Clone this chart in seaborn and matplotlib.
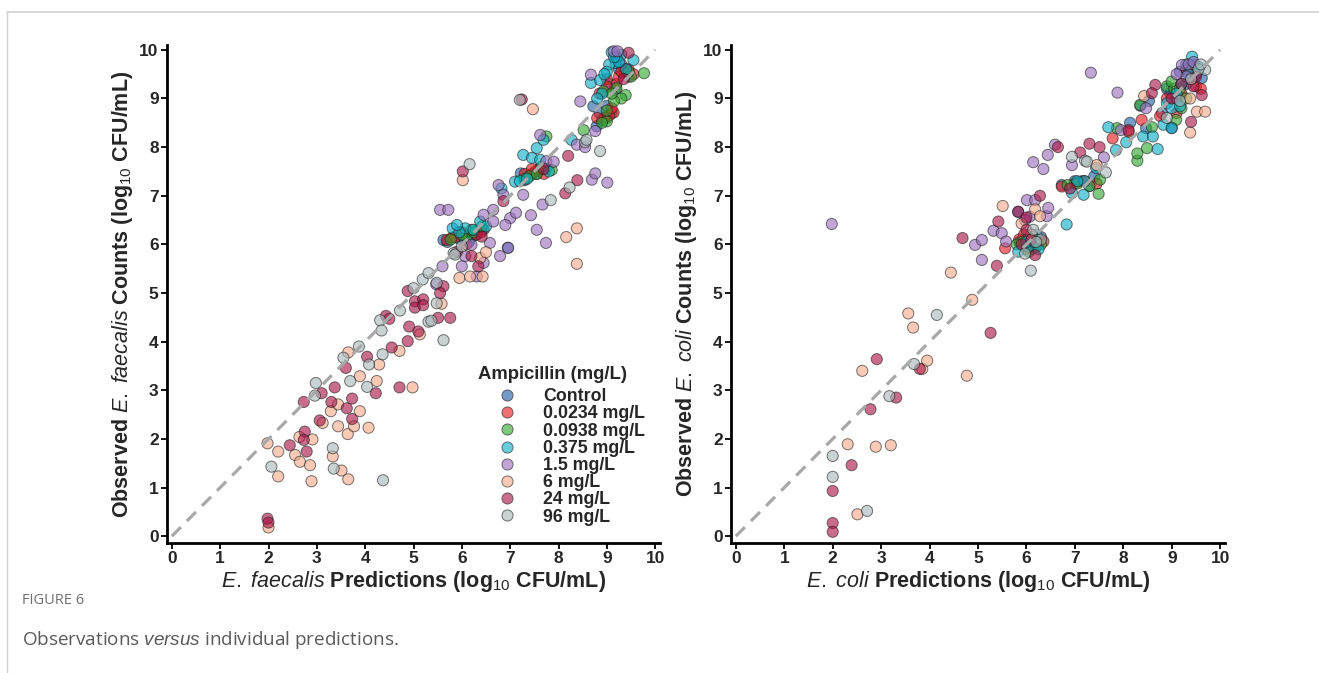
import numpy as np
import pandas as pd
import matplotlib
matplotlib.use("Agg")
import matplotlib.pyplot as plt
from matplotlib.lines import Line2D
import seaborn as sns

# ---------------- data ----------------
groups = ["Control", "0.0234 mg/L", "0.0938 mg/L", "0.375 mg/L",
          "1.5 mg/L", "6 mg/L", "24 mg/L", "96 mg/L"]
colors = ["#2060A8", "#E8191F", "#2FA82F", "#0AAFC8",
          "#9B6EBE", "#FAAA8C", "#AA1446", "#AAB9B9"]
ticks = [0, 1, 2, 3, 4, 5, 6, 7, 8, 9, 10]

# E. faecalis (left panel): predictions (x) and observations (y)
ef_ctrl_x = [5.62, 5.70, 5.95, 6.05, 6.20, 6.30, 6.45, 6.95, 7.22, 7.30, 7.45, 7.58, 7.75, 8.72, 8.79, 8.90, 9.00, 9.10, 9.18, 9.25, 9.35, 9.45, 9.20, 9.30, 9.05, 6.15, 7.55, 9.40, 8.85, 9.00]
ef_ctrl_y = [6.09, 6.05, 6.12, 6.10, 6.15, 6.20, 6.30, 5.93, 7.46, 7.32, 7.45, 7.50, 7.55, 8.84, 8.43, 8.55, 8.60, 8.70, 9.20, 9.60, 9.50, 9.45, 9.85, 9.70, 9.30, 6.05, 7.45, 9.60, 8.70, 8.85]
ef_r1_x = [5.69, 5.80, 5.86, 6.10, 6.30, 6.40, 7.30, 7.52, 7.70, 7.60, 9.14, 9.05, 8.95, 9.38, 9.55, 9.20, 9.00, 9.25, 9.10, 9.45, 8.85, 6.00, 7.45, 9.30, 9.00, 8.80]
ef_r1_y = [6.09, 6.14, 6.15, 6.00, 6.20, 6.25, 7.45, 7.50, 7.45, 7.55, 8.71, 8.65, 8.60, 9.56, 9.50, 9.30, 9.40, 9.45, 8.80, 9.60, 9.10, 6.25, 7.55, 9.55, 9.25, 8.60]
ef_g_x = [5.77, 6.10, 6.41, 6.25, 6.00, 7.30, 7.40, 7.86, 7.65, 7.75, 9.20, 9.39, 8.93, 9.00, 8.90, 8.52, 9.77, 9.50, 9.30, 9.00, 9.15, 6.20, 7.55, 9.10, 9.45]
ef_g_y = [6.10, 6.16, 6.37, 6.25, 6.20, 7.35, 7.40, 7.53, 7.60, 8.22, 9.21, 9.07, 9.15, 8.53, 8.50, 8.35, 9.52, 9.45, 9.00, 8.75, 8.95, 6.30, 7.45, 9.10, 9.55]
ef_c_x = [5.81, 6.07, 6.24, 6.38, 6.50, 5.95, 6.82, 7.10, 7.20, 7.27, 7.45, 7.55, 7.62, 7.69, 8.27, 7.80, 8.67, 8.86, 9.18, 9.05, 9.55, 9.10, 9.30, 8.90, 9.40, 8.80, 9.20, 9.00, 5.90, 7.35, 9.25, 8.95, 9.15]
ef_c_y = [6.33, 6.33, 6.30, 6.47, 6.37, 6.25, 7.15, 7.29, 7.30, 7.84, 7.78, 7.98, 7.74, 8.15, 8.15, 7.50, 9.32, 9.38, 9.73, 9.70, 9.79, 9.95, 9.90, 9.10, 9.60, 9.00, 9.85, 9.55, 6.40, 7.35, 9.75, 9.50, 9.85]
ef_p_x = [5.55, 5.72, 5.60, 5.47, 6.45, 6.65, 6.76, 6.86, 6.65, 6.58, 6.20, 6.07, 6.00, 6.45, 6.31, 6.79, 6.96, 7.00, 7.12, 7.27, 7.43, 7.55, 7.74, 7.67, 7.75, 7.90, 7.62, 8.38, 8.69, 8.76, 9.01, 8.45, 8.67, 9.14, 9.22, 8.76, 8.55, 6.90]
ef_p_y = [6.71, 6.71, 5.55, 5.18, 6.61, 6.47, 7.22, 7.02, 6.71, 6.03, 5.99, 5.76, 5.55, 5.62, 5.34, 5.76, 5.93, 6.54, 6.65, 7.02, 6.60, 6.30, 6.03, 6.82, 7.71, 7.70, 8.25, 8.05, 7.33, 7.46, 7.27, 8.94, 9.49, 9.97, 9.97, 8.33, 8.00, 6.40]
ef_pe_x = [2.00, 1.98, 2.20, 2.20, 2.64, 2.91, 2.55, 2.65, 2.86, 2.89, 3.12, 3.29, 3.44, 3.44, 3.64, 3.77, 3.89, 4.07, 3.33, 3.51, 3.65, 3.65, 3.89, 4.29, 4.24, 4.71, 4.98, 5.13, 5.58, 5.95, 6.17, 6.43, 6.38, 6.50, 6.02, 7.47, 8.16, 8.38, 8.38]
ef_pe_y = [0.18, 1.91, 1.74, 1.23, 2.04, 1.99, 1.67, 1.53, 1.46, 1.13, 2.33, 2.57, 2.71, 2.26, 2.10, 2.26, 2.57, 2.23, 1.64, 1.35, 1.17, 3.78, 3.29, 3.53, 3.19, 3.81, 3.06, 4.15, 4.78, 5.31, 5.34, 5.34, 5.72, 5.84, 7.32, 8.78, 6.15, 6.33, 5.60]
ef_cr_x = [1.98, 2.00, 2.44, 2.75, 2.73, 2.79, 2.73, 3.10, 3.06, 3.30, 3.37, 3.62, 3.73, 3.73, 3.60, 4.04, 4.22, 4.55, 4.71, 4.88, 4.91, 5.10, 5.51, 5.76, 4.43, 4.50, 4.88, 5.03, 5.03, 5.20, 5.20, 5.62, 5.55, 5.90, 6.20, 6.34, 6.41, 6.86, 6.02, 7.24, 8.39, 8.14, 8.20, 7.69, 9.45, 9.35]
ef_cr_y = [0.36, 0.28, 1.87, 2.15, 1.98, 1.74, 2.76, 2.94, 2.38, 2.76, 3.06, 2.63, 2.83, 2.41, 3.46, 3.69, 2.94, 3.88, 3.06, 4.01, 4.31, 4.21, 4.49, 4.49, 4.53, 4.47, 5.04, 4.83, 4.70, 4.87, 4.75, 5.14, 5.00, 5.85, 5.76, 5.55, 6.16, 6.89, 7.50, 8.98, 7.32, 7.05, 7.82, 7.55, 9.94, 9.40]
ef_gr_x = [2.06, 2.98, 2.96, 3.33, 3.35, 4.37, 3.55, 3.69, 3.87, 4.08, 4.36, 4.04, 5.31, 5.37, 5.62, 4.31, 4.34, 4.72, 5.00, 5.19, 5.31, 5.48, 5.48, 5.83, 5.86, 6.00, 6.16, 7.20, 7.84, 8.23, 8.55, 8.86, 8.58]
ef_gr_y = [1.43, 3.15, 2.89, 1.81, 1.39, 1.15, 3.67, 3.19, 3.90, 3.53, 3.74, 3.07, 4.41, 4.43, 4.03, 4.44, 4.23, 4.64, 5.10, 5.28, 5.41, 5.21, 4.79, 5.82, 5.79, 5.96, 7.65, 8.97, 6.91, 7.17, 8.10, 7.92, 8.15]

# E. coli (right panel)
ec_ctrl_x = [5.85, 6.00, 6.20, 6.10, 5.83, 6.73, 7.15, 7.40, 7.30, 8.14, 8.47, 8.53, 8.35, 8.97, 9.17, 9.62, 9.10, 9.30, 8.80, 9.45, 9.00, 6.00, 6.30, 7.00, 8.90, 9.30, 9.50]
ec_ctrl_y = [6.05, 6.10, 6.00, 5.90, 6.67, 7.22, 7.30, 7.40, 7.20, 8.50, 8.39, 8.95, 8.85, 9.11, 9.55, 9.42, 9.00, 9.30, 8.70, 9.70, 8.40, 5.95, 6.15, 7.30, 9.20, 9.60, 9.50]
ec_r1_x = [5.56, 6.35, 5.95, 6.10, 6.25, 6.73, 7.00, 7.45, 7.78, 8.11, 8.38, 8.76, 9.20, 9.50, 9.10, 9.30, 9.60, 5.85, 6.00, 7.20, 8.90, 9.40]
ec_r1_y = [5.92, 6.06, 6.20, 5.95, 6.10, 7.19, 7.25, 7.25, 8.18, 8.32, 8.56, 8.64, 9.10, 9.25, 8.70, 9.60, 9.20, 6.10, 5.90, 7.30, 9.00, 9.40]
ec_g_x = [5.90, 6.15, 6.30, 6.05, 6.85, 7.05, 7.52, 7.49, 7.87, 8.29, 8.29, 8.49, 8.59, 8.35, 8.90, 9.05, 9.17, 9.09, 9.20, 5.80, 6.20, 7.30, 9.00, 9.30]
ec_g_y = [6.05, 6.15, 6.00, 5.85, 7.22, 7.25, 7.33, 7.04, 8.39, 7.72, 7.87, 7.98, 8.41, 8.87, 9.25, 9.20, 9.20, 8.56, 8.80, 6.00, 5.95, 7.20, 9.35, 9.00]
ec_c_x = [5.83, 6.05, 6.25, 6.15, 6.83, 6.94, 7.18, 7.20, 7.44, 7.69, 8.06, 7.85, 8.41, 8.61, 8.71, 8.83, 8.90, 9.00, 9.17, 9.00, 9.42, 9.35, 9.20, 9.55, 6.00, 6.20, 7.05, 9.30, 9.10]
ec_c_y = [5.85, 5.95, 5.90, 6.05, 6.41, 7.06, 7.02, 7.30, 7.57, 8.41, 8.10, 7.94, 8.22, 8.22, 7.96, 8.46, 8.90, 8.80, 8.84, 8.39, 9.86, 9.50, 9.30, 9.65, 6.05, 6.20, 7.30, 9.70, 9.10]
ec_p_x = [1.98, 5.08, 4.94, 5.08, 5.32, 5.49, 5.58, 6.01, 6.18, 6.07, 5.97, 6.42, 6.45, 6.14, 6.35, 6.44, 6.59, 6.94, 7.60, 7.33, 7.88, 8.47, 9.21, 9.35, 9.30, 7.95, 9.45, 9.10]
ec_p_y = [6.42, 5.68, 5.99, 6.09, 6.28, 6.23, 6.06, 6.91, 6.91, 6.57, 6.50, 6.58, 6.75, 7.69, 7.55, 7.84, 8.05, 7.63, 7.79, 9.53, 9.12, 8.80, 9.69, 9.70, 9.45, 8.35, 9.75, 9.50]
ec_pe_x = [2.51, 2.31, 2.89, 3.20, 2.61, 3.85, 3.95, 3.56, 3.66, 4.77, 4.88, 4.44, 5.51, 6.18, 6.28, 5.90, 7.45, 8.43, 9.38, 9.52, 9.69, 9.38, 6.10]
ec_pe_y = [0.45, 1.89, 1.84, 1.87, 3.40, 3.44, 3.61, 4.58, 4.29, 3.30, 4.86, 5.42, 6.79, 6.72, 6.58, 6.43, 7.63, 9.05, 9.00, 8.73, 8.73, 8.30, 6.20]
ec_cr_x = [2.00, 2.00, 2.00, 2.39, 2.78, 3.31, 2.91, 3.80, 5.26, 5.39, 4.68, 5.42, 5.83, 6.28, 6.00, 6.18, 5.90, 6.65, 7.11, 7.30, 7.51, 6.90, 8.11, 8.66, 8.59, 9.45, 9.62, 9.40, 9.00, 6.10, 6.00, 9.20, 9.50]
ec_cr_y = [0.27, 0.09, 0.93, 1.46, 2.61, 2.85, 3.64, 3.44, 4.18, 5.56, 6.13, 6.47, 6.67, 7.00, 6.30, 5.78, 6.00, 8.00, 7.89, 8.07, 8.00, 7.15, 8.35, 9.28, 9.11, 9.25, 9.07, 8.52, 9.00, 6.10, 6.55, 9.30, 9.45]
ec_gr_x = [2.00, 2.00, 2.71, 3.17, 3.68, 4.15, 6.09, 6.14, 5.97, 6.30, 6.94, 7.21, 7.25, 7.64, 9.69, 9.55, 9.17, 8.90, 6.20, 9.40, 9.60]
ec_gr_y = [1.22, 1.65, 0.52, 2.88, 3.54, 4.55, 5.46, 6.30, 5.81, 6.10, 7.80, 7.72, 7.70, 7.48, 9.59, 9.60, 8.95, 8.60, 6.05, 9.40, 9.70]

ef_sets = [(ef_ctrl_x, ef_ctrl_y), (ef_r1_x, ef_r1_y), (ef_g_x, ef_g_y), (ef_c_x, ef_c_y),
           (ef_p_x, ef_p_y), (ef_pe_x, ef_pe_y), (ef_cr_x, ef_cr_y), (ef_gr_x, ef_gr_y)]
ec_sets = [(ec_ctrl_x, ec_ctrl_y), (ec_r1_x, ec_r1_y), (ec_g_x, ec_g_y), (ec_c_x, ec_c_y),
           (ec_p_x, ec_p_y), (ec_pe_x, ec_pe_y), (ec_cr_x, ec_cr_y), (ec_gr_x, ec_gr_y)]


def build_frame(sets):
    parts = []
    for name, (xs, ys) in zip(groups, sets):
        parts.append(pd.DataFrame({"pred": xs, "obs": ys, "conc": name}))
    return pd.concat(parts, ignore_index=True)


df_ef = build_frame(ef_sets)
df_ec = build_frame(ec_sets)
palette = dict(zip(groups, colors))

# ---------------- style ----------------
sns.set_theme(style="ticks")
plt.rcParams["font.family"] = ["Liberation Sans", "DejaVu Sans"]
plt.rcParams["mathtext.fontset"] = "custom"
plt.rcParams["mathtext.rm"] = "Liberation Sans"
plt.rcParams["mathtext.it"] = "Liberation Sans:italic"
plt.rcParams["mathtext.bf"] = "Liberation Sans:bold"

W, H = 1319, 673
fig = plt.figure(figsize=(W / 100, H / 100), dpi=100)
fig.patch.set_facecolor("white")

ax1 = fig.add_axes([167 / W, 1 - 543 / H, 493 / W, 498 / H])
ax2 = fig.add_axes([731 / W, 1 - 543 / H, 494 / W, 498 / H])

point_kw = dict(s=64, alpha=0.62, edgecolor="#222222", linewidth=0.7)

sns.scatterplot(data=df_ef, x="pred", y="obs", hue="conc", hue_order=groups,
                palette=palette, ax=ax1, legend=True, zorder=2, **point_kw)
sns.scatterplot(data=df_ec, x="pred", y="obs", hue="conc", hue_order=groups,
                palette=palette, ax=ax2, legend=False, zorder=2, **point_kw)

xlabels = [r"$\mathit{E.\ faecalis}$ Predictions (log$_{10}$ CFU/mL)",
           r"$\mathit{E.\ coli}$ Predictions (log$_{10}$ CFU/mL)"]
ylabels = [r"Observed $\mathit{E.\ faecalis}$ Counts (log$_{10}$ CFU/mL)",
           r"Observed $\mathit{E.\ coli}$ Counts (log$_{10}$ CFU/mL)"]

for ax, xl, yl in zip([ax1, ax2], xlabels, ylabels):
    ax.plot([0, 10], [0, 10], color="#A8A8A8", lw=2.3, dashes=(4, 2.7), zorder=3,
            solid_capstyle="butt", dash_capstyle="butt")
    ax.set_xlim(-0.10, 10.10)
    ax.set_ylim(-0.14, 10.10)
    ax.set_xticks(ticks)
    ax.set_yticks(ticks)
    ax.set_xticklabels([str(t) for t in ticks], fontweight="bold", fontsize=12.5)
    ax.set_yticklabels([str(t) for t in ticks], fontweight="bold", fontsize=12.5)
    ax.tick_params(axis="both", direction="out", length=4, width=1.3, color="black", pad=2)
    for side in ["top", "right"]:
        ax.spines[side].set_visible(False)
    for side in ["left", "bottom"]:
        ax.spines[side].set_linewidth(2.0)
        ax.spines[side].set_color("black")
    ax.set_xlabel(xl, fontsize=15.5, fontweight="bold", labelpad=2)
    ax.set_ylabel(yl, fontsize=15.5, fontweight="bold", labelpad=3)
    ax.set_facecolor("white")

# legend
handles, labels = ax1.get_legend_handles_labels()
leg = ax1.legend(handles, labels, title="Ampicillin (mg/L)", loc="upper left",
                 bbox_to_anchor=(0.631, 0.356), frameon=False,
                 prop={"weight": "bold", "size": 12.8},
                 title_fontproperties={"weight": "bold", "size": 13.3},
                 handlelength=3.26, handletextpad=0.4, labelspacing=0.01,
                 borderaxespad=0.0, borderpad=0.0, markerscale=1.0)
leg._legend_box.align = "left"
leg._legend_box.sep = 4.0
for h in leg.legend_handles:
    try:
        h.set_alpha(0.62)
        h.set_markeredgecolor("#222222")
        h.set_markeredgewidth(0.7)
        h.set_markersize(8)
    except Exception:
        pass

# page frame and caption
fig.add_artist(Line2D([7 / W, 1.0], [1 - 11.5 / H, 1 - 11.5 / H], color="#d0d0d0", lw=1.2))
fig.add_artist(Line2D([7 / W, 7 / W], [0.0, 1 - 11.5 / H], color="#d0d0d0", lw=1.0))
fig.text(22 / W, 1 - 600 / H, "FIGURE 6", fontsize=10.5, color="#707070",
         family=["Open Sans", "DejaVu Sans"], va="center", ha="left")
fig.text(22 / W, 1 - 640 / H, r"Observations $\mathit{versus}$ individual predictions.",
         fontsize=13.6, color="#5a5a5a", family=["Open Sans", "DejaVu Sans"],
         va="center", ha="left")

fig.savefig("out.png", dpi=100, facecolor="white")
